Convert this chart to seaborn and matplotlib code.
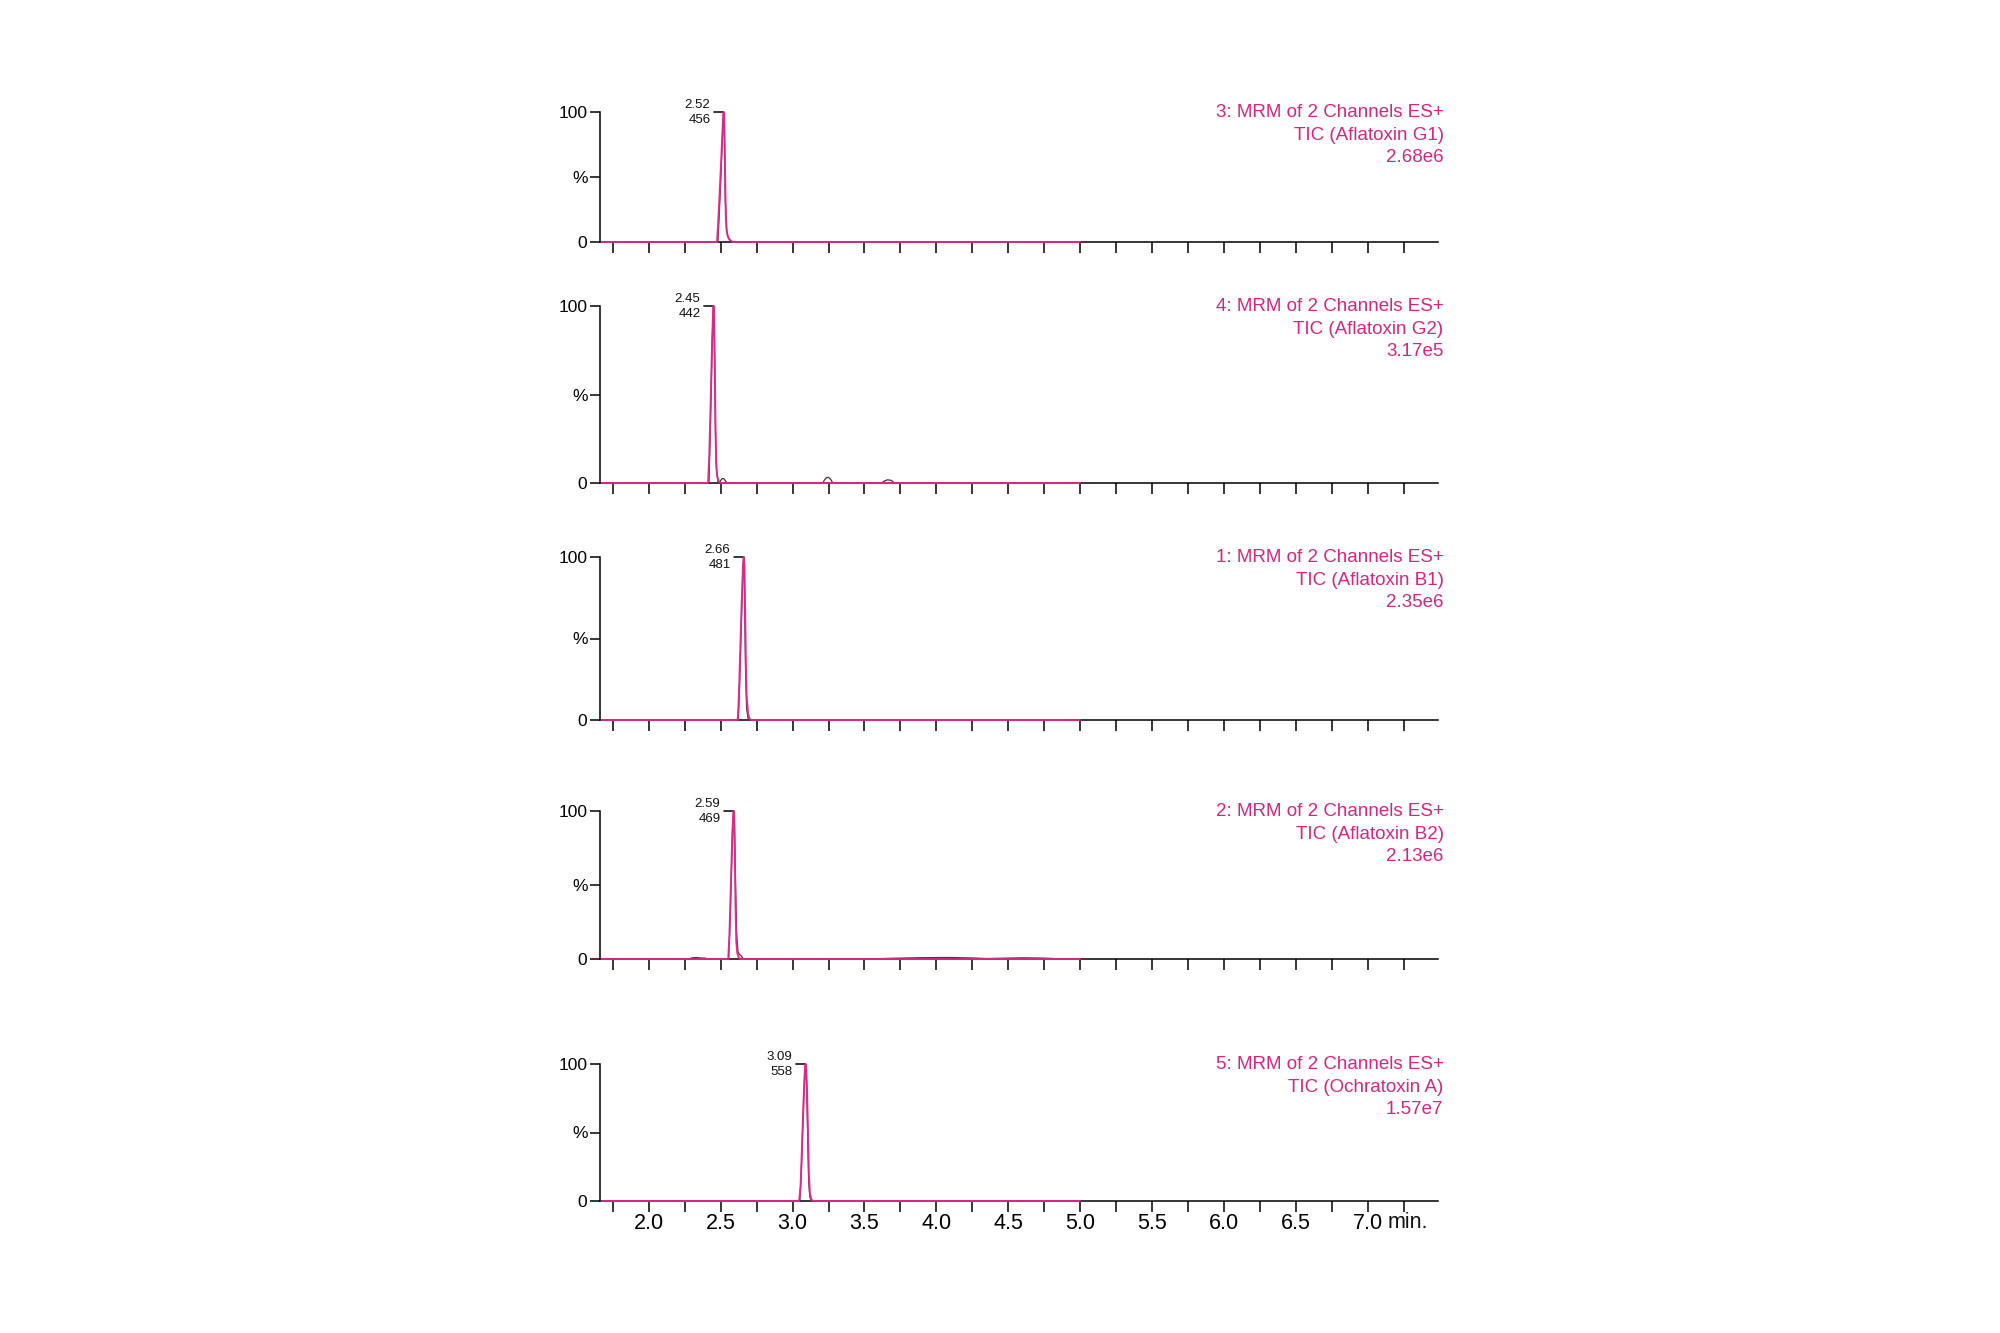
import matplotlib
matplotlib.use("Agg")
import matplotlib.pyplot as plt
import seaborn as sns
import numpy as np
from matplotlib import font_manager

# ---------------- data ----------------
retention_times = [2.52, 2.45, 2.66, 2.59, 3.09]
peak_areas = [456, 442, 481, 469, 558]
channel_labels = [
    ["3: MRM of 2 Channels ES+", "TIC (Aflatoxin G1)", "2.68e6"],
    ["4: MRM of 2 Channels ES+", "TIC (Aflatoxin G2)", "3.17e5"],
    ["1: MRM of 2 Channels ES+", "TIC (Aflatoxin B1)", "2.35e6"],
    ["2: MRM of 2 Channels ES+", "TIC (Aflatoxin B2)", "2.13e6"],
    ["5: MRM of 2 Channels ES+", "TIC (Ochratoxin A)", "1.57e7"],
]
y_tick_values = [0, 50, 100]
y_tick_labels = ["0", "%", "100"]
x_tick_labels = ["2.0", "2.5", "3.0", "3.5", "4.0", "4.5", "5.0", "5.5", "6.0", "6.5", "7.0"]

# channel traces (time in min, intensity in %)
g1_pink_t = [1.67, 2.474, 2.48, 2.49, 2.50, 2.51, 2.517, 2.52, 2.524, 2.528, 2.532, 2.536, 2.542, 2.55, 2.56, 2.575, 2.59, 5.00]
g1_pink_v = [0, 0, 10, 32, 55, 80, 96, 100, 95, 70, 40, 18, 8, 4, 2, 0.5, 0, 0]
g1_dark_t = [1.67, 2.48, 2.49, 2.50, 2.51, 2.517, 2.52, 2.524, 2.528, 2.532, 2.54, 2.55, 2.565, 2.58, 5.00]
g1_dark_v = [0, 0, 22, 48, 76, 95, 100, 94, 65, 32, 10, 4, 1, 0, 0]

g2_pink_t = [1.67, 2.412, 2.42, 2.43, 2.44, 2.447, 2.45, 2.453, 2.458, 2.463, 2.468, 2.475, 2.485, 2.50, 5.00]
g2_pink_v = [0, 0, 15, 45, 80, 97, 100, 97, 70, 35, 12, 4, 1, 0, 0]
g2_dark_t = [1.67, 2.418, 2.43, 2.44, 2.447, 2.45, 2.453, 2.458, 2.463, 2.47, 2.48, 2.49, 2.50, 2.51, 2.52,
             2.53, 2.54, 2.55, 3.21, 3.22, 3.235, 3.25, 3.265, 3.28, 3.62, 3.635, 3.66, 3.685, 3.71, 5.00]
g2_dark_v = [0, 0, 40, 78, 96, 100, 96, 66, 30, 8, 1, 0, 1.5, 2.5, 2.5,
             1.5, 0.5, 0, 0, 1.5, 3, 3.2, 2, 0, 0, 1, 1.8, 1.5, 0, 0]

b1_pink_t = [1.67, 2.618, 2.625, 2.635, 2.645, 2.655, 2.66, 2.665, 2.67, 2.675, 2.68, 2.69, 2.70, 2.71, 5.00]
b1_pink_v = [0, 0, 12, 40, 70, 95, 100, 94, 65, 35, 15, 4, 1, 0, 0]
b1_dark_t = [1.67, 2.622, 2.63, 2.64, 2.65, 2.657, 2.66, 2.664, 2.668, 2.673, 2.68, 2.69, 2.70, 5.00]
b1_dark_v = [0, 0, 18, 50, 80, 97, 100, 92, 60, 28, 7, 1, 0, 0]

b2_pink_t = [1.67, 2.552, 2.56, 2.57, 2.58, 2.587, 2.59, 2.593, 2.598, 2.603, 2.608, 2.615, 2.625, 2.64, 5.00]
b2_pink_v = [0, 0, 15, 48, 82, 98, 100, 97, 70, 35, 12, 4, 1, 0, 0]
b2_dark_t = [1.67, 2.28, 2.30, 2.33, 2.36, 2.39, 2.41, 2.555, 2.565, 2.575, 2.583, 2.59, 2.596, 2.602, 2.61,
             2.62, 2.63, 2.64, 2.65, 2.66, 3.5, 3.7, 3.9, 4.1, 4.25, 4.35, 4.45, 4.6, 4.75, 4.85, 5.00]
b2_dark_v = [0, 0, 0.8, 1.0, 0.7, 0.6, 0, 0, 25, 62, 90, 100, 90, 55, 18,
             5, 3, 2.5, 1, 0, 0, 0.5, 0.9, 1.0, 0.7, 0.3, 0.5, 0.8, 0.6, 0.2, 0]

oa_pink_t = [1.67, 3.045, 3.055, 3.065, 3.075, 3.085, 3.09, 3.095, 3.10, 3.107, 3.113, 3.12, 3.13, 3.145, 5.00]
oa_pink_v = [0, 0, 10, 38, 70, 95, 100, 96, 82, 50, 20, 6, 1, 0, 0]
oa_dark_t = [1.67, 3.05, 3.06, 3.07, 3.08, 3.087, 3.09, 3.094, 3.10, 3.106, 3.112, 3.12, 3.13, 5.00]
oa_dark_v = [0, 0, 20, 52, 82, 98, 100, 95, 75, 42, 14, 3, 0, 0]

pink_traces = [(g1_pink_t, g1_pink_v), (g2_pink_t, g2_pink_v), (b1_pink_t, b1_pink_v),
               (b2_pink_t, b2_pink_v), (oa_pink_t, oa_pink_v)]
dark_traces = [(g1_dark_t, g1_dark_v), (g2_dark_t, g2_dark_v), (b1_dark_t, b1_dark_v),
               (b2_dark_t, b2_dark_v), (oa_dark_t, oa_dark_v)]

# ---------------- style ----------------
sns.set_theme(style="ticks")
plt.rcParams["font.family"] = ["Liberation Sans", "DejaVu Sans"]
names = {f.name for f in font_manager.fontManager.ttflist}
x_font = "Liberation Sans Narrow" if "Liberation Sans Narrow" in names else "Liberation Sans"

PINK = "#e0288a"
TEXT_PINK = "#d4267f"
DARK = "#5a2844"

W, H = 2000, 1333
fig = plt.figure(figsize=(20, 13.33), dpi=100)
fig.patch.set_facecolor("white")

panel_px = [(112, 242), (306, 483), (557, 720), (811, 959), (1064, 1201)]
left_px, right_px = 600, 1438
xmin, xmax = 1.66, 7.49
tick_pos = np.arange(1.75, 7.26, 0.25)

for i, (top, bot) in enumerate(panel_px):
    ax = fig.add_axes([left_px / W, 1 - bot / H, (right_px - left_px) / W, (bot - top) / H])
    ax.set_facecolor("white")
    dt, dv = dark_traces[i]
    pt, pv = pink_traces[i]
    sns.lineplot(x=dt, y=dv, ax=ax, color=DARK, linewidth=0.9, estimator=None, sort=False,
                 clip_on=False, zorder=3)
    sns.lineplot(x=pt, y=pv, ax=ax, color=PINK, linewidth=1.4, estimator=None, sort=False,
                 clip_on=False, zorder=4, alpha=0.95)
    ax.set_xlim(xmin, xmax)
    ax.set_ylim(0, 100)
    ax.set_xlabel("")
    ax.set_ylabel("")
    for s in ["top", "right"]:
        ax.spines[s].set_visible(False)
    for s in ["left", "bottom"]:
        ax.spines[s].set_linewidth(1.1)
        ax.spines[s].set_color("black")
    ax.set_yticks(y_tick_values)
    ax.set_yticklabels(y_tick_labels, fontsize=12.5, color="#111111")
    ax.tick_params(axis="y", direction="out", length=7, width=1.1, pad=2, colors="black")
    ax.set_xticks(tick_pos)
    labels = []
    for p in tick_pos:
        lab = ""
        for l in x_tick_labels:
            if abs(float(l) - p) < 1e-6:
                lab = l
        labels.append(lab)
    ax.set_xticklabels(labels, fontsize=15.5, family=x_font, color="#111111")
    ax.tick_params(axis="x", direction="out", length=8, width=1.1, pad=0.5, colors="black",
                   labelbottom=(i == len(panel_px) - 1))

    rt = retention_times[i]
    ax.annotate("", xy=(rt, 100), xytext=(-7, 0), textcoords="offset points",
                arrowprops=dict(arrowstyle="-", color="black", lw=1.1, shrinkA=0, shrinkB=0),
                annotation_clip=False)
    ax.annotate(f"{rt:.2f}", xy=(rt, 100), xytext=(-9.5, 5), textcoords="offset points",
                ha="right", va="center", fontsize=9.5, color="#111111", annotation_clip=False)
    ax.annotate(f"{peak_areas[i]}", xy=(rt, 100), xytext=(-9.5, -5.5), textcoords="offset points",
                ha="right", va="center", fontsize=9.5, color="#111111", annotation_clip=False)

    ax.annotate("\n".join(channel_labels[i]), xy=(1, 1), xycoords="axes fraction",
                xytext=(4.0, 5.5), textcoords="offset points", ha="right", va="top",
                fontsize=13.5, color=TEXT_PINK, linespacing=1.4, annotation_clip=False)

    if i == len(panel_px) - 1:
        ax.annotate("min.", xy=(7.0, 0), xycoords=("data", "axes fraction"),
                    xytext=(14.5, -8), textcoords="offset points", ha="left", va="top",
                    fontsize=15.5, family=x_font, color="#111111", annotation_clip=False)

fig.savefig("out.png", dpi=100, facecolor="white")
